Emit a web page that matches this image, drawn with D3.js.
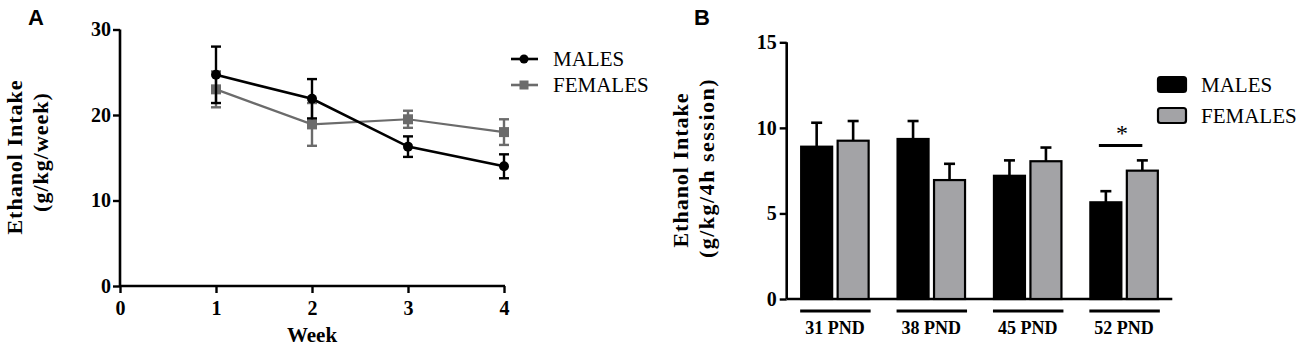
<!DOCTYPE html>
<html>
<head>
<meta charset="utf-8">
<script src="https://cdn.jsdelivr.net/npm/d3@7"></script>
<style>
  html, body { margin: 0; padding: 0; background: #fff; }
  svg { display: block; }
</style>
</head>
<body>
<svg id="chart" width="1300" height="348"></svg>
<script>
// ---------- DATA ----------
// Panel A: weekly ethanol intake
const weeks = [1, 2, 3, 4];
const weekTicks = [0, 1, 2, 3, 4];
const malesWeekly = [24.7, 21.9, 16.3, 14.0];
const malesWeeklyErr = [3.3, 2.3, 1.2, 1.4];
const femalesWeekly = [23.0, 18.9, 19.5, 18.0];
const femalesWeeklyErr = [2.1, 2.5, 1.0, 1.5];
const yTicksA = [0, 10, 20, 30];

// Panel B: intake per 4h session by age
const ages = ["31 PND", "38 PND", "45 PND", "52 PND"];
const seriesNames = ["MALES", "FEMALES"];
const malesSession = [8.9, 9.35, 7.2, 5.65];
const malesSessionErr = [1.4, 1.05, 0.9, 0.65];
const femalesSession = [9.25, 6.95, 8.05, 7.5];
const femalesSessionErr = [1.15, 0.95, 0.8, 0.6];
const yTicksB = [0, 5, 10, 15];
const sigGroups = ["52 PND"];

// ---------- DRAW ----------
const svg = d3.select("#chart");
const serif = '"Liberation Serif", "Times New Roman", serif';
const sans = '"Liberation Sans", Arial, sans-serif';
const femaleLine = "#6b6b6b";
const femaleBar = "#a3a3a6";

// Panel letters
svg.append("text").attr("x", 28).attr("y", 25).attr("font-family", sans)
  .attr("font-weight", "bold").attr("font-size", 22).text("A");
svg.append("text").attr("x", 694).attr("y", 25).attr("font-family", sans)
  .attr("font-weight", "bold").attr("font-size", 22).text("B");

// ===== Panel A =====
const xA = d3.scaleLinear().domain([0, 4]).range([120, 504]);
const yA = d3.scaleLinear().domain([0, 30]).range([286, 29.5]);

const gA = svg.append("g");
const axYA = gA.append("g").attr("transform", `translate(${xA(0)},0)`)
  .call(d3.axisLeft(yA).tickValues(yTicksA).tickSize(7).tickPadding(2).tickFormat(d3.format("d")));
const axXA = gA.append("g").attr("transform", `translate(0,${yA(0)})`)
  .call(d3.axisBottom(xA).tickValues(weekTicks).tickSize(7).tickPadding(8).tickFormat(d3.format("d")));
[axYA, axXA].forEach(ax => {
  ax.select(".domain").attr("stroke", "#000").attr("stroke-width", 2.6);
  ax.selectAll(".tick line").attr("stroke", "#000").attr("stroke-width", 2.4);
  ax.selectAll(".tick text").attr("font-family", serif).attr("font-weight", "bold")
    .attr("font-size", 20).attr("fill", "#000");
});
axYA.select(".domain").attr("d", `M0,${yA(30)}V${yA(0)}`);
axXA.select(".domain").attr("d", `M${xA(0)},0H${xA(4) + 1}`);

gA.append("text").attr("transform", `translate(${22},${157}) rotate(-90)`)
  .attr("text-anchor", "middle").attr("font-family", serif).attr("font-weight", "bold")
  .attr("font-size", 22).attr("letter-spacing", 1).text("Ethanol Intake");
gA.append("text").attr("transform", `translate(${48},${152}) rotate(-90)`)
  .attr("text-anchor", "middle").attr("font-family", serif).attr("font-weight", "bold")
  .attr("font-size", 22).attr("letter-spacing", 1).text("(g/kg/week)");
gA.append("text").attr("x", xA(2)).attr("y", 342).attr("text-anchor", "middle")
  .attr("font-family", serif).attr("font-weight", "bold").attr("font-size", 21).text("Week");

function drawSeriesA(vals, errs, color, lw, marker) {
  const pts = weeks.map((w, i) => ({ w, v: vals[i], e: errs[i] }));
  const g = gA.append("g");
  pts.forEach(p => {
    g.append("line").attr("x1", xA(p.w)).attr("x2", xA(p.w))
      .attr("y1", yA(p.v - p.e)).attr("y2", yA(p.v + p.e))
      .attr("stroke", color).attr("stroke-width", 2.4);
    [p.v - p.e, p.v + p.e].forEach(yy => {
      g.append("line").attr("x1", xA(p.w) - 5).attr("x2", xA(p.w) + 5)
        .attr("y1", yA(yy)).attr("y2", yA(yy)).attr("stroke", color).attr("stroke-width", 2.4);
    });
  });
  g.append("path").datum(pts)
    .attr("d", d3.line().x(p => xA(p.w)).y(p => yA(p.v)))
    .attr("fill", "none").attr("stroke", color).attr("stroke-width", lw);
  pts.forEach(p => {
    if (marker === "circle") {
      g.append("circle").attr("cx", xA(p.w)).attr("cy", yA(p.v)).attr("r", 5).attr("fill", color);
    } else {
      g.append("rect").attr("x", xA(p.w) - 5).attr("y", yA(p.v) - 5)
        .attr("width", 10).attr("height", 10).attr("fill", color);
    }
  });
}
drawSeriesA(femalesWeekly, femalesWeeklyErr, femaleLine, 2.2, "square");
drawSeriesA(malesWeekly, malesWeeklyErr, "#000", 2.6, "circle");

// Legend A
const legA = [
  { name: seriesNames[0], color: "#000", marker: "circle", y: 59 },
  { name: seriesNames[1], color: femaleLine, marker: "square", y: 85 }
];
legA.forEach(l => {
  svg.append("line").attr("x1", 511).attr("x2", 538).attr("y1", l.y).attr("y2", l.y)
    .attr("stroke", l.color).attr("stroke-width", 2.6);
  if (l.marker === "circle") svg.append("circle").attr("cx", 524).attr("cy", l.y).attr("r", 4.5).attr("fill", l.color);
  else svg.append("rect").attr("x", 519.5).attr("y", l.y - 4.5).attr("width", 9).attr("height", 9).attr("fill", l.color);
  svg.append("text").attr("x", 553).attr("y", l.y + 7).attr("font-family", serif)
    .attr("font-size", 21).text(l.name);
});

// ===== Panel B =====
const x0 = d3.scaleBand().domain(ages).range([786.7, 1172.3]).paddingInner(0.3).paddingOuter(0.15);
const x1 = d3.scaleBand().domain(seriesNames).range([0, x0.bandwidth()]).paddingInner(0.15);
const yB = d3.scaleLinear().domain([0, 15]).range([299, 42.3]);

const gB = svg.append("g");
const axYB = gB.append("g").attr("transform", `translate(786.7,0)`)
  .call(d3.axisLeft(yB).tickValues(yTicksB).tickSize(7).tickPadding(3).tickFormat(d3.format("d")));
axYB.select(".domain").attr("d", `M0,${yB(15)}V${yB(0)}`).attr("stroke", "#000").attr("stroke-width", 2.6);
axYB.selectAll(".tick line").attr("stroke", "#000").attr("stroke-width", 2.4);
axYB.selectAll(".tick text").attr("font-family", serif).attr("font-weight", "bold")
  .attr("font-size", 20).attr("fill", "#000");
gB.append("line").attr("x1", 786.7).attr("x2", 1172.3).attr("y1", yB(0)).attr("y2", yB(0))
  .attr("stroke", "#000").attr("stroke-width", 2.6);

gB.append("text").attr("transform", `translate(${688},${170}) rotate(-90)`)
  .attr("text-anchor", "middle").attr("font-family", serif).attr("font-weight", "bold")
  .attr("font-size", 22).attr("letter-spacing", 1).text("Ethanol Intake");
gB.append("text").attr("transform", `translate(${714},${168}) rotate(-90)`)
  .attr("text-anchor", "middle").attr("font-family", serif).attr("font-weight", "bold")
  .attr("font-size", 22).attr("letter-spacing", 1.5).text("(g/kg/4h session)");

const barData = ages.map((a, i) => ({
  age: a,
  bars: [
    { s: seriesNames[0], v: malesSession[i], e: malesSessionErr[i], fill: "#000" },
    { s: seriesNames[1], v: femalesSession[i], e: femalesSessionErr[i], fill: femaleBar }
  ]
}));
const groups = gB.selectAll("g.grp").data(barData).join("g").attr("class", "grp")
  .attr("transform", d => `translate(${x0(d.age)},0)`);
groups.each(function(d) {
  const g = d3.select(this);
  d.bars.forEach(b => {
    const cx = x1(b.s) + x1.bandwidth() / 2;
    g.append("line").attr("x1", cx).attr("x2", cx).attr("y1", yB(b.v)).attr("y2", yB(b.v + b.e))
      .attr("stroke", "#000").attr("stroke-width", 2.6);
    g.append("line").attr("x1", cx - 5.5).attr("x2", cx + 5.5).attr("y1", yB(b.v + b.e)).attr("y2", yB(b.v + b.e))
      .attr("stroke", "#000").attr("stroke-width", 2.6);
    g.append("rect").attr("x", x1(b.s)).attr("y", yB(b.v))
      .attr("width", x1.bandwidth()).attr("height", yB(0) - yB(b.v))
      .attr("fill", b.fill).attr("stroke", "#000").attr("stroke-width", 2.2);
  });
  g.append("line").attr("x1", -1).attr("x2", x0.bandwidth() + 2).attr("y1", 311).attr("y2", 311)
    .attr("stroke", "#000").attr("stroke-width", 3);
  g.append("text").attr("x", x0.bandwidth() / 2).attr("y", 334).attr("text-anchor", "middle")
    .attr("font-family", serif).attr("font-weight", "bold").attr("font-size", 18).text(d.age);
});

// significance marker
sigGroups.forEach(a => {
  const i = ages.indexOf(a);
  const cm = x0(a) + x1(seriesNames[0]) + x1.bandwidth() / 2;
  const cf = x0(a) + x1(seriesNames[1]) + x1.bandwidth() / 2;
  const top = Math.max(malesSession[i] + malesSessionErr[i], femalesSession[i] + femalesSessionErr[i]);
  const yl = yB(top) - 15;
  gB.append("line").attr("x1", cm - 7).attr("x2", cf).attr("y1", yl).attr("y2", yl)
    .attr("stroke", "#000").attr("stroke-width", 3);
  gB.append("text").attr("x", (cm + cf) / 2 - 2).attr("y", yl - 4).attr("text-anchor", "middle")
    .attr("font-family", serif).attr("font-size", 24).text("*");
});

// Legend B
const legB = [
  { name: seriesNames[0], fill: "#000", y: 77 },
  { name: seriesNames[1], fill: femaleBar, y: 108 }
];
legB.forEach(l => {
  svg.append("rect").attr("x", 1158).attr("y", l.y).attr("width", 28).attr("height", 15)
    .attr("rx", 2.5).attr("fill", l.fill).attr("stroke", "#000").attr("stroke-width", 2.2);
  svg.append("text").attr("x", 1201).attr("y", l.y + 15).attr("font-family", serif)
    .attr("font-size", 21).text(l.name);
});
</script>
</body>
</html>
